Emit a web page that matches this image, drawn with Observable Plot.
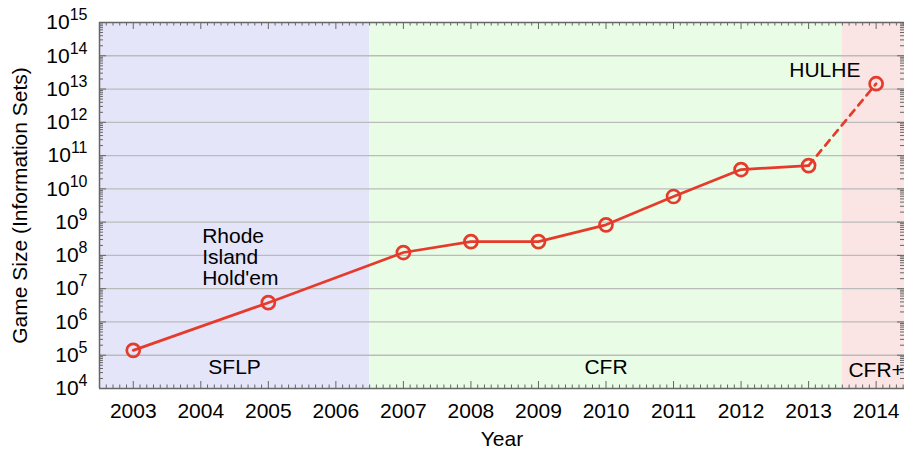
<!DOCTYPE html>
<html><head><meta charset="utf-8">
<script src="https://cdn.jsdelivr.net/npm/d3@7"></script>
<script src="https://cdn.jsdelivr.net/npm/@observablehq/plot@0.6"></script>
<style>body{margin:0;background:#fff} svg{display:block}</style>
</head><body><div id="chart"></div>
<script>
// ---- data ----
const solvedYears = [2003, 2005, 2007, 2008, 2009, 2010, 2011, 2012, 2013, 2014];
const gameSizes   = [1.4e5, 3.8e6, 1.22e8, 2.6e8, 2.6e8, 8.3e8, 5.9e9, 3.8e10, 5.0e10, 1.45e13];
const yearTicks   = [2003, 2004, 2005, 2006, 2007, 2008, 2009, 2010, 2011, 2012, 2013, 2014];
const decadeTicks = [1e4, 1e5, 1e6, 1e7, 1e8, 1e9, 1e10, 1e11, 1e12, 1e13, 1e14, 1e15];
const eraNames  = ["SFLP", "CFR", "CFR+"];
const eraStart  = [2002.5, 2006.5, 2013.5];
const eraEnd    = [2006.5, 2013.5, 2014.42];
const eraColors = ["#e5e5fa", "#e8fce6", "#fbe4e4"];
const eraLabelX = [2004.5, 2010, 2014];
const eraLabelY = [4.3e4, 4.3e4, 3.5e4];
const rhodeText = "Rhode\nIsland\nHold'em";
const rhodeX = 2004.02, rhodeY = 8.7e7;
const hulheText = "HULHE";
const hulheX = 2013.24, hulheY = 3.6e13;

const points = solvedYears.map((y, i) => ({year: y, size: gameSizes[i]}));
const eras = eraNames.map((n, i) => ({name: n, x1: eraStart[i], x2: eraEnd[i], fill: eraColors[i], lx: eraLabelX[i], ly: eraLabelY[i]}));

// minor ticks derived from the major tick lists
const minorX = [];
for (let t = Math.round(eraStart[0] * 10); t <= Math.round(eraEnd[2] * 10); t++) if (t % 10 !== 0) minorX.push(t / 10);
const minorY = [];
decadeTicks.slice(0, -1).forEach(d => { for (let k = 2; k <= 9; k++) minorY.push(d * k); });

const H = 460 - 22 - 72, W = 904 - 99;
const red = "#e63a2b", axisCol = "#666";
const FONT = "'Liberation Sans', Arial, Helvetica, sans-serif";
const FS = 21;

const chart = Plot.plot({
  width: 904, height: 460,
  marginLeft: 99, marginRight: 0, marginTop: 22, marginBottom: 72,
  style: {fontFamily: FONT, fontSize: FS + "px", background: "#fff"},
  x: {domain: [eraStart[0], eraEnd[2]]},
  y: {type: "log", domain: [decadeTicks[0], decadeTicks[decadeTicks.length - 1]]},
  marks: [
    Plot.rect(eras, {x1: "x1", x2: "x2", fill: "fill"}),
    Plot.ruleY(decadeTicks.slice(1, -1), {stroke: "#bbbbbb", strokeWidth: 1.3}),
    // ticks, inward
    Plot.ruleX(yearTicks, {stroke: axisCol, insetTop: H - 7}),
    Plot.ruleX(minorX, {stroke: axisCol, insetTop: H - 3.5}),
    Plot.ruleX(yearTicks, {stroke: axisCol, insetBottom: H - 7}),
    Plot.ruleX(minorX, {stroke: axisCol, insetBottom: H - 3.5}),
    Plot.ruleY(decadeTicks, {stroke: axisCol, insetRight: W - 7}),
    Plot.ruleY(minorY, {stroke: axisCol, insetRight: W - 4}),
    Plot.ruleY(decadeTicks, {stroke: axisCol, insetLeft: W - 7}),
    Plot.ruleY(minorY, {stroke: axisCol, insetLeft: W - 4}),
    // frame
    Plot.ruleX([eraStart[0]], {stroke: axisCol, strokeWidth: 1.5}),
    Plot.ruleY([decadeTicks[0]], {stroke: axisCol, strokeWidth: 1.5}),
    Plot.ruleY([decadeTicks[decadeTicks.length - 1]], {stroke: axisCol, strokeWidth: 1.5}),
    // axes labels
    Plot.axisX(yearTicks, {anchor: "bottom", tickSize: 0, tickPadding: 15, tickFormat: d => String(d), fontSize: FS, label: null}),
    Plot.axisY(decadeTicks, {anchor: "left", tickSize: 0, tickPadding: 12, tickFormat: d => "10^" + Math.round(Math.log10(d)), fontSize: FS, label: null}),
    Plot.text(["Game Size (Information Sets)"], {frameAnchor: "left", dx: -79, rotate: -90, textAnchor: "middle", fontSize: FS}),
    Plot.text(["Year"], {frameAnchor: "bottom", dy: 57, fontSize: FS}),
    // era labels and notes
    Plot.text(eras, {x: "lx", y: "ly", text: "name", fontSize: FS, fill: "#000"}),
    Plot.text([rhodeText], {x: rhodeX, y: rhodeY, textAnchor: "start", fontSize: FS, lineHeight: 1.0, fill: "#000"}),
    Plot.text([hulheText], {x: hulheX, y: hulheY, fontSize: FS, fill: "#000"}),
    // data
    Plot.line(points.slice(0, -1), {x: "year", y: "size", stroke: red, strokeWidth: 2.7}),
    Plot.line(points.slice(-2), {x: "year", y: "size", stroke: red, strokeWidth: 2.7, strokeDasharray: "7,6"}),
    Plot.dot(points, {x: "year", y: "size", r: 6.5, stroke: red, strokeWidth: 2.7, fill: "none"})
  ]
});

// superscript exponents on the y tick labels
chart.querySelectorAll('g[aria-label="y-axis tick label"] text').forEach(t => {
  const m = t.textContent.match(/^10\^(\d+)$/);
  if (!m) return;
  t.textContent = "";
  const ns = "http://www.w3.org/2000/svg";
  const a = document.createElementNS(ns, "tspan"); a.textContent = "10";
  const b = document.createElementNS(ns, "tspan"); b.textContent = m[1];
  b.setAttribute("dy", "-9"); b.setAttribute("font-size", "16");
  t.appendChild(a); t.appendChild(b);
});
document.getElementById("chart").appendChild(chart);
</script>
</body></html>
